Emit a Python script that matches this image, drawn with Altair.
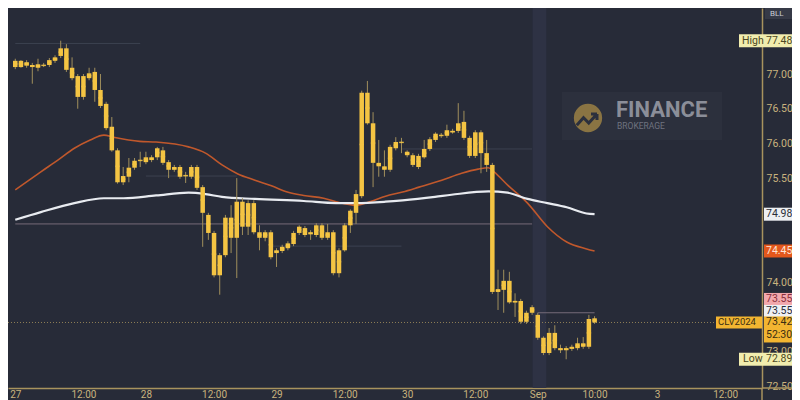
import altair as alt
import pandas as pd

# ---------------- data ----------------
opens = [77.19, 77.10, 77.17, 77.13, 77.09, 77.13, 77.13, 77.19, 77.26, 77.37,
         77.09, 76.97, 76.67, 76.94, 77.03, 76.77, 76.57, 76.24, 75.90, 75.44,
         75.52, 75.65, 75.75, 75.73, 75.80, 75.80, 75.90, 75.73, 75.62, 75.66,
         75.54, 75.52, 75.66, 75.37, 74.97, 74.71, 74.10, 74.39, 74.64, 74.64,
         75.16, 74.80, 75.14, 74.72, 74.64, 74.72, 74.42, 74.45, 74.49, 74.55,
         74.71, 74.78, 74.69, 74.68, 74.82, 74.64, 74.72, 74.13, 74.46, 74.82,
         75.00, 75.24, 76.73, 76.29, 75.72, 75.67, 75.62, 75.93, 76.02, 75.88,
         75.83, 75.66, 75.80, 75.92, 76.05, 76.12, 76.11, 76.18, 76.18, 76.31,
         76.08, 75.82, 76.16, 75.86, 75.69, 73.86, 73.89, 74.02, 73.71, 73.73,
         73.43, 73.56, 73.53, 73.20, 72.98, 73.27, 73.05, 73.02, 73.04, 73.05,
         73.07, 73.07, 73.48]
highs = [77.22, 77.20, 77.20, 77.16, 77.22, 77.16, 77.23, 77.27, 77.48, 77.43,
         77.24, 77.00, 77.00, 77.09, 77.09, 77.00, 76.60, 76.38, 75.93, 75.66,
         75.79, 75.79, 75.88, 75.88, 75.83, 75.95, 75.95, 75.76, 75.69, 75.69,
         75.59, 75.69, 75.69, 75.40, 75.00, 74.74, 74.42, 74.97, 75.11, 75.50,
         75.21, 75.18, 75.18, 74.82, 74.75, 74.75, 74.49, 74.54, 74.59, 74.74,
         74.82, 74.81, 74.75, 74.85, 74.85, 74.84, 74.75, 74.49, 74.85, 75.05,
         75.33, 76.76, 76.90, 76.45, 76.05, 75.90, 75.98, 76.09, 76.08, 75.90,
         75.86, 75.85, 76.05, 76.09, 76.16, 76.15, 76.27, 76.21, 76.58, 76.47,
         76.11, 76.19, 76.19, 76.05, 75.72, 74.18, 74.18, 74.15, 73.84, 73.76,
         73.59, 73.67, 73.56, 73.22, 73.34, 73.38, 73.10, 73.08, 73.10, 73.20,
         73.21, 73.53, 73.51]
lows = [77.07, 77.09, 77.09, 76.86, 77.04, 77.10, 77.10, 77.16, 77.23, 77.03,
        76.91, 76.50, 76.63, 76.91, 76.60, 76.51, 76.19, 75.88, 75.42, 75.40,
        75.44, 75.62, 75.66, 75.70, 75.73, 75.76, 75.69, 75.50, 75.59, 75.49,
        75.43, 75.49, 75.33, 74.51, 74.61, 74.07, 73.82, 74.36, 74.42, 74.06,
        74.68, 74.68, 74.69, 74.46, 74.59, 74.33, 74.22, 74.42, 74.46, 74.52,
        74.68, 74.65, 74.61, 74.65, 74.61, 74.61, 74.10, 74.07, 74.44, 74.71,
        74.84, 75.21, 76.27, 75.37, 75.52, 75.52, 75.59, 75.90, 75.86, 75.80,
        75.66, 75.63, 75.78, 75.89, 76.02, 76.08, 76.08, 76.14, 76.15, 76.05,
        75.79, 75.79, 75.57, 75.59, 73.83, 73.60, 73.56, 73.69, 73.50, 73.40,
        73.40, 73.53, 73.17, 72.95, 72.95, 73.02, 72.98, 72.89, 73.01, 73.02,
        73.04, 73.04, 73.40]
closes = [77.10, 77.19, 77.12, 77.10, 77.14, 77.12, 77.20, 77.24, 77.37, 77.06,
          76.94, 76.67, 76.97, 77.01, 76.77, 76.54, 76.22, 75.90, 75.44, 75.53,
          75.65, 75.75, 75.76, 75.80, 75.76, 75.93, 75.72, 75.62, 75.66, 75.52,
          75.53, 75.66, 75.36, 75.00, 74.71, 74.10, 74.39, 74.93, 74.93, 75.16,
          74.80, 75.14, 74.72, 74.64, 74.72, 74.36, 74.46, 74.51, 74.56, 74.71,
          74.80, 74.68, 74.72, 74.82, 74.64, 74.72, 74.13, 74.46, 74.82, 75.03,
          75.27, 76.73, 76.29, 75.72, 75.67, 75.62, 75.95, 76.02, 76.01, 75.83,
          75.69, 75.82, 75.92, 76.06, 76.14, 76.11, 76.19, 76.16, 76.29, 76.08,
          75.82, 76.16, 75.86, 75.69, 73.86, 73.90, 74.02, 73.71, 73.73, 73.43,
          73.56, 73.64, 73.20, 72.98, 73.27, 73.05, 73.02, 73.05, 73.07, 73.12,
          73.12, 73.47, 73.42]

ma_fast_idx = [0, 4.5, 7.5, 10.4, 13.2, 15.6, 17.3, 21.9, 24.8, 30.5, 33.5, 36.4,
               39.2, 42.2, 45.1, 47.9, 50.8, 54.3, 56.5, 60.0, 62.4, 65.2, 68.2,
               71.1, 75.1, 78.6, 81.5, 83.3, 84.3, 86.7, 90.2, 93.7, 97.1, 100.6, 102]
ma_fast_val = [75.33, 75.59, 75.76, 75.93, 76.05, 76.12, 76.09, 76.03, 76.02, 75.95,
               75.86, 75.69, 75.56, 75.47, 75.39, 75.30, 75.25, 75.21, 75.16, 75.11,
               75.16, 75.24, 75.30, 75.37, 75.47, 75.57, 75.63, 75.65, 75.59, 75.40,
               75.14, 74.80, 74.58, 74.48, 74.45]
ma_slow_idx = [0, 4.5, 10.4, 15.6, 19.1, 24.8, 30.5, 33.5, 36.4, 42.2, 50.8, 56.5,
               60.0, 65.2, 68.2, 73.9, 76.8, 83.3, 86.7, 90.2, 93.7, 97.1, 100.6, 102]
ma_slow_val = [74.90, 75.01, 75.14, 75.21, 75.21, 75.25, 75.29, 75.27, 75.23, 75.20,
               75.17, 75.14, 75.14, 75.16, 75.18, 75.23, 75.26, 75.31, 75.29, 75.20,
               75.14, 75.08, 74.99, 74.98]

time_tick_idx = [0, 12, 23, 35, 46, 58, 69, 81, 92, 102, 113, 125]
time_tick_lab = ["27", "12:00", "28", "12:00", "29", "12:00", "30", "12:00",
                 "Sep", "10:00", "3", "12:00"]
# price labels left visible (the others sit behind the price tags)
price_ticks = [72.5, 73.0, 74.0, 75.5, 76.0, 76.5, 77.0]

faint_start = [0, 23, 45, 68]
faint_end = [22, 39, 68, 91]
faint_price = [77.44, 75.53, 74.52, 75.92]
pink_start = [0, 92]
pink_end = [91, 102]
pink_price = [74.84, 73.56]

session_start = [91.1]
session_end = [93.5]

last_price = 73.42
high_price = 77.48
low_price = 72.89
ma_fast_last = 74.45
ma_slow_last = 74.98
prev_close = 73.55
symbol = "CLV2024"
countdown = "52:30"

# ---------------- styling ----------------
FONT = "Roboto"
BG = "#272B38"
AX = "#A8935E"
LAB = "#C9B37E"
BODY = "#F4C443"
WICK = "#A08F5C"
W, H = 754, 380

xs = alt.Scale(domain=[-0.4, 130.6], nice=False, zero=False)
ys = alt.Scale(domain=[72.476, 77.951], nice=False, zero=False)

label_expr = ("[" + ",".join(f"'{s}'" for s in time_tick_lab) + "][indexof(["
              + ",".join(str(v) for v in time_tick_idx) + "], datum.value)]")

XAXIS = alt.Axis(values=time_tick_idx, labelExpr=label_expr, title=None, ticks=False,
                 grid=False, domainColor=AX, domainWidth=1.5, labelColor=LAB,
                 labelFont=FONT, labelFontSize=10, labelPadding=1, labelFlush=False,
                 labelOverlap=False, labelBaseline="top")
YAXIS = alt.Axis(orient="right", values=price_ticks, format=".2f", title=None,
                 ticks=False, grid=False, domainColor=AX, domainWidth=1.5,
                 labelColor=LAB, labelFont=FONT, labelFontSize=10.5, labelPadding=4)


def XQ(f):
    return alt.X(f, scale=xs, axis=XAXIS)


def YQ(f):
    return alt.Y(f, scale=ys, axis=YAXIS)


cdf = pd.DataFrame({"i": list(range(len(opens))), "o": opens, "h": highs,
                    "l": lows, "c": closes})
one = pd.DataFrame({"a": [0]})

band = alt.Chart(pd.DataFrame({"s": session_start, "e": session_end})).mark_rect(
    color="#2E3244").encode(x=XQ("s:Q"), x2="e:Q", y=alt.value(0), y2=alt.value(H))

# watermark
wm_box = alt.Chart(one).mark_rect(color="#2C303D").encode(
    x=alt.value(554), x2=alt.value(714), y=alt.value(84), y2=alt.value(132))
wm_circle = alt.Chart(one).mark_point(shape="circle", filled=True, size=800,
                                      color="#8A7443", opacity=1).encode(
    x=alt.value(580), y=alt.value(110))
wm_zig = alt.Chart(one).mark_point(
    shape="M-0.75,0.35L-0.3,-0.15L0.05,0.2L0.6,-0.4M0.6,-0.4L0.2,-0.4M0.6,-0.4L0.6,0",
    filled=False, size=900, stroke="#2C303D", strokeWidth=3, opacity=1).encode(
    x=alt.value(580), y=alt.value(112))
wm_t1 = alt.Chart(one).mark_text(text="FINANCE", align="left", baseline="middle",
                                 fontSize=22, fontWeight="bold", font=FONT,
                                 color="#8B8E99").encode(x=alt.value(608), y=alt.value(102))
wm_t2 = alt.Chart(one).mark_text(text="BROKERAGE", align="left", baseline="middle",
                                 fontSize=8.5, font=FONT, color="#6F7380").encode(
    x=alt.value(609), y=alt.value(118))

faint = alt.Chart(pd.DataFrame({"s": faint_start, "e": faint_end, "p": faint_price})).mark_rule(
    color="#3C4150", strokeWidth=1).encode(x=XQ("s:Q"), x2="e:Q", y=YQ("p:Q"))
pink = alt.Chart(pd.DataFrame({"s": pink_start, "e": pink_end, "p": pink_price})).mark_rule(
    color="#766B78", strokeWidth=1).encode(x=XQ("s:Q"), x2="e:Q", y=YQ("p:Q"))
lastline = alt.Chart(pd.DataFrame({"p": [last_price]})).mark_rule(
    color="#8E7F57", strokeWidth=1, strokeDash=[1, 2]).encode(
    x=alt.value(0), x2=alt.value(W), y=YQ("p:Q"))

ma_fast = alt.Chart(pd.DataFrame({"i": ma_fast_idx, "v": ma_fast_val})).mark_line(
    color="#C0582C", strokeWidth=1.6, interpolate="monotone").encode(
    x=XQ("i:Q"), y=YQ("v:Q"))
ma_slow = alt.Chart(pd.DataFrame({"i": ma_slow_idx, "v": ma_slow_val})).mark_line(
    color="#E8EBF0", strokeWidth=2.2, interpolate="monotone").encode(
    x=XQ("i:Q"), y=YQ("v:Q"))

wick = alt.Chart(cdf).mark_rule(color=WICK, strokeWidth=1).encode(
    x=XQ("i:Q"), y=YQ("l:Q"), y2="h:Q")
body = alt.Chart(cdf).mark_bar(size=4.5, color=BODY).encode(
    x=XQ("i:Q"), y=YQ("o:Q"), y2="c:Q")
tick = alt.Chart(cdf).transform_calculate(m="(datum.o + datum.c) / 2").mark_tick(
    orient="horizontal", size=4.5, thickness=1.6, color=BODY).encode(
    x=XQ("i:Q"), y=YQ("m:Q"))


def tag(price, fill, x0, x1, top, bottom):
    return alt.Chart(pd.DataFrame({"p": [price]})).mark_rect(
        fill=fill, yOffset=top, y2Offset=bottom).encode(
        x=alt.value(x0), x2=alt.value(x1), y=YQ("p:Q"), y2="p:Q")


def txt(price, text, color, x, dy=0, size=10.5):
    return alt.Chart(pd.DataFrame({"p": [price]})).mark_text(
        text=text, align="left", baseline="middle", dy=dy, fontSize=size, font=FONT,
        color=color).encode(x=alt.value(x), y=YQ("p:Q"))


boxes = [
    tag(high_price, "#F1EDAE", 731, 784, -6.5, 6.5),
    txt(high_price, "High", "#4D4823", 734),
    txt(high_price, f"{high_price:.2f}", "#4D4823", 758),
    tag(ma_slow_last, "#EDEFF2", 756, 784, -6.5, 6.5),
    txt(ma_slow_last, f"{ma_slow_last:.2f}", "#2A2E39", 758),
    tag(ma_fast_last, "#E4581C", 756, 784, -6.5, 6.5),
    txt(ma_fast_last, f"{ma_fast_last:.2f}", "#FFE4D6", 758),
    tag(prev_close, "#F2A8AD", 756, 784, -20.5, -7.5),
    txt(prev_close, f"{prev_close:.2f}", "#8A2F3B", 758, dy=-14),
    tag(prev_close, "#EEF0F3", 756, 784, -8.5, 3.5),
    txt(prev_close, f"{prev_close:.2f}", "#2A2E39", 758, dy=-2.5),
    tag(last_price, "#F2B531", 756, 784, -6, 20),
    txt(last_price, f"{last_price:.2f}", "#3A2E12", 758),
    txt(last_price, countdown, "#3A2E12", 758, dy=13),
    tag(last_price, "#F2B531", 708, 754, -6, 6),
    txt(last_price, symbol, "#3A2E12", 710, size=9.5),
    tag(low_price, "#F1EDAE", 731, 784, -6.5, 6.5),
    txt(low_price, "Low", "#4D4823", 735),
    txt(low_price, f"{low_price:.2f}", "#4D4823", 758),
]

bll_box = alt.Chart(one).mark_rect(color="#363A47").encode(
    x=alt.value(757), x2=alt.value(784), y=alt.value(0), y2=alt.value(11))
bll_txt = alt.Chart(one).mark_text(text="BLL", align="left", baseline="middle",
                                   fontSize=8, font=FONT, color="#C9CCD4").encode(
    x=alt.value(762), y=alt.value(5.5))
ext_v = alt.Chart(one).mark_rule(color=AX, strokeWidth=1.5).encode(
    x=alt.value(W), y=alt.value(H), y2=alt.value(H + 12))
ext_h = alt.Chart(one).mark_rule(color=AX, strokeWidth=1.5).encode(
    x=alt.value(W), x2=alt.value(W + 30), y=alt.value(H))

chart = alt.layer(
    band, wm_box, wm_circle, wm_zig, wm_t1, wm_t2, faint, pink, lastline,
    ma_fast, ma_slow, wick, body, tick, *boxes, bll_box, bll_txt, ext_v, ext_h
).properties(
    width=W, height=H, background=BG,
    autosize=alt.AutoSizeParams(type="none"),
    padding={"left": 0, "top": 0, "right": 30, "bottom": 12},
).configure_view(stroke=None)

chart.save("out.html", embed_options={"renderer": "svg", "actions": False})
